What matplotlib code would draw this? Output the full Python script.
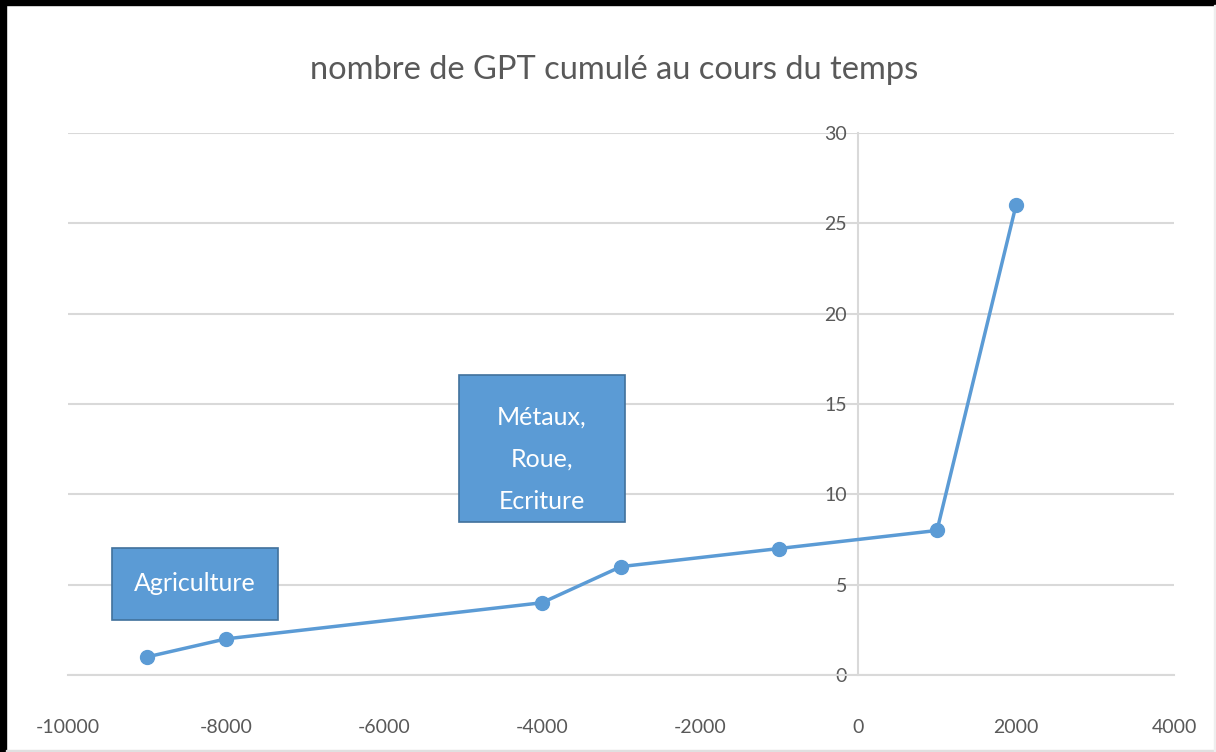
import matplotlib
matplotlib.use("Agg")
import matplotlib.pyplot as plt
from matplotlib.patches import Rectangle

# donnees
annees = [-9000, -8000, -4000, -3000, -1000, 1000, 2000]
nb_gpt = [1, 2, 4, 6, 7, 8, 26]
x_ticks = [-10000, -8000, -6000, -4000, -2000, 0, 2000, 4000]
y_ticks = [0, 5, 10, 15, 20, 25, 30]
titre = "nombre de GPT cumulé au cours du temps"
etiquettes = ["Agriculture", "Métaux,\nRoue,\nEcriture"]

BLEU = "#5b9bd5"
BORD = "#41719c"
GRIS = "#d9d9d9"
TXT = "#595959"

plt.rcParams['font.family'] = ['Lato', 'DejaVu Sans']
plt.rcParams['axes.unicode_minus'] = False

fig = plt.figure(figsize=(12.16, 7.52), dpi=100)
fig.patch.set_facecolor("white")
# bord noir en haut et a gauche, filet gris en bas et a droite
fig.patches.append(Rectangle((0, 0), 6 / 1216, 1, transform=fig.transFigure,
                             color="black", zorder=0))
fig.patches.append(Rectangle((0, 1 - 5 / 752), 1, 5 / 752, transform=fig.transFigure,
                             color="black", zorder=0))
fig.patches.append(Rectangle((6 / 1216, 0), 1, 2 / 752, transform=fig.transFigure,
                             color="#e0e0e0", zorder=0))
fig.patches.append(Rectangle((1 - 2 / 1216, 0), 2 / 1216, 1 - 5 / 752,
                             transform=fig.transFigure, color="#eeeeee", zorder=0))

ax = fig.add_axes([68 / 1216, 1 - 675 / 752, (1174 - 68) / 1216, (675 - 133) / 752])
ax.set_xlim(-10000, 4000)
ax.set_ylim(0, 30)
ax.set_xticks(x_ticks)
ax.set_yticks(y_ticks)

ax.grid(axis="y", color=GRIS, lw=1.5)
ax.set_axisbelow(True)
for s in ["top", "right"]:
    ax.spines[s].set_visible(False)
ax.spines["left"].set_position(("data", 0))
ax.spines["left"].set_color(GRIS)
ax.spines["left"].set_linewidth(1.5)
ax.spines["bottom"].set_color(GRIS)
ax.spines["bottom"].set_linewidth(1.5)
ax.tick_params(length=0, colors=TXT, labelsize=14)
ax.tick_params(axis="x", pad=32)
ax.tick_params(axis="y", pad=8)

ax.plot(annees, nb_gpt, color=BLEU, lw=2.5, marker="o", ms=10, zorder=3)

# boites de texte (decalage vertical du texte en unites y)
boites = [(-9440, 3.05, 2100, 4.0, 0.0), (-5050, 8.45, 2100, 8.15, -0.6)]
for (x0, y0, w, h, dy), lab in zip(boites, etiquettes):
    ax.add_patch(Rectangle((x0, y0), w, h, facecolor=BLEU, edgecolor=BORD,
                           lw=1.2, zorder=4))
    ax.text(x0 + w / 2, y0 + h / 2 + dy, lab, ha="center", va="center",
            color="white", fontsize=18, linespacing=2.0, zorder=5)

fig.text(614 / 1216, 1 - 70 / 752, titre, ha="center", va="center",
         color=TXT, fontsize=23.5)

fig.savefig("out.png", dpi=100)
